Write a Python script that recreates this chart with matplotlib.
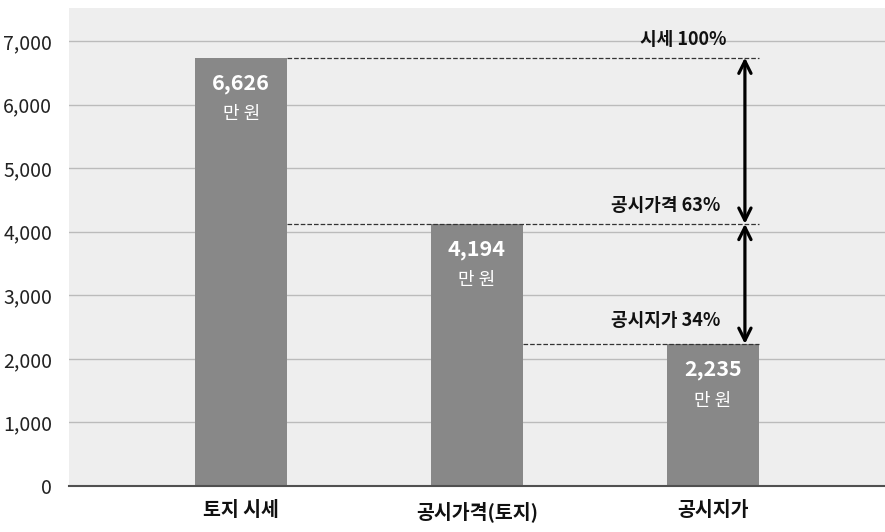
import matplotlib.pyplot as plt

plt.rcParams['font.family'] = ['Noto Sans CJK KR', 'DejaVu Sans']

categories = ["토지 시세", "공시가격(토지)", "공시지가"]
# bar heights as drawn in the picture (labels give the stated values)
values = [6740, 4125, 2235]
value_labels = ["6,626", "4,194", "2,235"]
ratio_labels = ["시세 100%", "공시가격 63%", "공시지가 34%"]
yticks = [0, 1000, 2000, 3000, 4000, 5000, 6000, 7000]

fig = plt.figure(figsize=(8.85, 5.32), dpi=100)
ax = fig.add_axes([69 / 885, 1 - 486 / 532, 816 / 885, 478 / 532])
ax.set_facecolor("#eeeeee")

x = list(range(len(categories)))
w = 0.39
ax.bar(x, values, width=w, color="#888888", zorder=3)
ax.set_xlim(-0.73, 2.73)
ax.set_ylim(0, 7520)

# gridlines
ax.set_yticks(yticks)
ax.set_yticklabels([f"{v:,}" for v in yticks], fontsize=14, color="#222222")
ax.yaxis.grid(True, color="#bbbbbb", lw=1, zorder=1)
ax.tick_params(axis="y", length=0, pad=12)
ax.set_xticks(x)
ax.set_xticklabels(categories, fontsize=14, fontweight="bold", color="#111111")
ax.tick_params(axis="x", length=0, pad=11)
for s in ["top", "left", "right"]:
    ax.spines[s].set_visible(False)
ax.spines["bottom"].set_color("#505050")
ax.spines["bottom"].set_linewidth(1.5)
ax.spines["bottom"].set_zorder(4)

# values inside bars
for i, v in enumerate(values):
    ax.text(i, v - 410, value_labels[i], ha="center", va="center", color="white",
            fontsize=15.5, fontweight="bold", zorder=5)
    ax.text(i, v - 890, "만 원", ha="center", va="center", color="white",
            fontsize=13, zorder=5)

# dashed reference lines
xr = 2 + w / 2
ax.plot([0 + w / 2, xr], [values[0], values[0]], ls="--", color="#333333", lw=0.9, zorder=4)
ax.plot([0 + w / 2, xr], [values[1], values[1]], ls="--", color="#333333", lw=0.9, zorder=4)
ax.plot([1 + w / 2, xr], [values[2], values[2]], ls="--", color="#333333", lw=0.9, zorder=4)

# arrows
xa = 2.136
for a, b in [(values[0], values[1]), (values[1], values[2])]:
    ax.annotate("", xy=(xa, b), xytext=(xa, a),
                arrowprops=dict(arrowstyle="<->", color="black", lw=2.3,
                                mutation_scale=22, shrinkA=0, shrinkB=0), zorder=5)

# ratio labels
ax.text(1.873, 7030, ratio_labels[0], ha="center", va="center",
        fontsize=13, fontweight="bold", color="#111111", zorder=5)
ax.text(1.80, 4410, ratio_labels[1], ha="center", va="center",
        fontsize=13, fontweight="bold", color="#111111", zorder=5)
ax.text(1.80, 2600, ratio_labels[2], ha="center", va="center",
        fontsize=13, fontweight="bold", color="#111111", zorder=5)

fig.savefig("out.png", dpi=100)
